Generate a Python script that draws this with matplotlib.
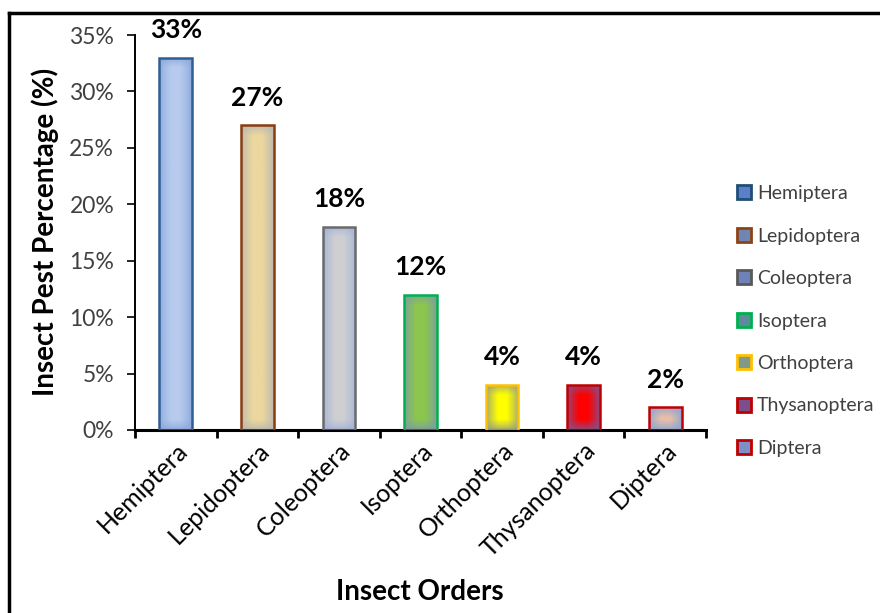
import numpy as np
import matplotlib
matplotlib.use("Agg")
import matplotlib.pyplot as plt
from matplotlib.patches import Patch, Rectangle
from matplotlib.colors import to_rgb
from matplotlib.ticker import FuncFormatter, FixedLocator

plt.rcParams['font.family'] = ['Lato', 'DejaVu Sans']

categories = ["Hemiptera", "Lepidoptera", "Coleoptera", "Isoptera",
              "Orthoptera", "Thysanoptera", "Diptera"]
values = [33, 27, 18, 12, 4, 4, 2]
value_labels = ["33%", "27%", "18%", "12%", "4%", "4%", "2%"]
yticks = [0, 5, 10, 15, 20, 25, 30, 35]

center_colors = ["#b8cbee", "#ecd79e", "#cfcfd2", "#8cc64e", "#ffff00", "#ff0000", "#e9c0a6"]
edge_fill_colors = ["#8aa8dc", "#b8b8b0", "#a2b2d8", "#7a9ca6", "#9a9e80", "#80528e", "#8fa4d4"]
line_colors = ["#2f5f92", "#8b3d10", "#6a6a6a", "#00b050", "#ffc000", "#c00000", "#c00000"]
legend_fill = ["#5b80c8", "#6f86b5", "#6f82b8", "#5f8a9a", "#7f9a8a", "#7b4f8a", "#7b8fc8"]
legend_edge = ["#1f4e79", "#8b4513", "#595959", "#00b050", "#ffc000", "#c00000", "#c00000"]

fig = plt.figure(figsize=(8.8, 6.13), dpi=100)
ax = fig.add_axes([135/880, 1-430/613, (706-135)/880, (430-35)/613])

x = np.arange(len(categories))
width = 0.4
ax.set_xlim(-0.5, len(categories) - 0.5)
ax.set_ylim(0, 35)
bars = ax.bar(x, values, width=width, color="none", edgecolor=line_colors, linewidth=1.8, zorder=3)

# gradient fills (edge-to-centre shading, computed in pixel units)
px_per_x = 571 / len(categories)
px_per_y = 395 / 35
for b, cc, ec in zip(bars, center_colors, edge_fill_colors):
    bx, by = b.get_x(), b.get_y()
    bw, bh = b.get_width(), b.get_height()
    wpx = bw * px_per_x
    hpx = bh * px_per_y
    nx, ny = 40, max(int(hpx), 10)
    xs = (np.arange(nx) + 0.5) / nx * wpx
    ys = (np.arange(ny) + 0.5) / ny * hpx
    hw = wpx / 2
    dx = np.minimum(xs, wpx - xs) / hw
    dy = np.minimum(ys, hpx - ys) / hw
    sx = np.clip(dx * 1.35, 0, 1) ** 0.75
    sy = np.clip(dy * 1.5, 0, 1) ** 0.75
    t = sy[:, None] * sx[None, :]
    c1 = np.array(to_rgb(cc)); c2 = np.array(to_rgb(ec))
    img = c2[None, None, :] + (c1 - c2)[None, None, :] * t[..., None]
    im = ax.imshow(img, extent=(bx, bx + bw, by, by + bh), aspect='auto',
                   origin='lower', zorder=2, interpolation='bilinear')
    clip = Rectangle((bx, by), bw, bh, transform=ax.transData)
    im.set_clip_path(clip)
ax.set_xlim(-0.5, len(categories) - 0.5)
ax.set_ylim(0, 35)

for xi, v, lab in zip(x, values, value_labels):
    ax.annotate(lab, (xi, v), xytext=(0, 20), textcoords='offset points',
                ha='center', va='center', fontsize=19, fontweight='bold', clip_on=False)

ax.yaxis.set_major_locator(FixedLocator(yticks))
ax.yaxis.set_major_formatter(FuncFormatter(lambda v, p: f"{int(v)}%"))
ax.set_xticks(x)
ax.set_xticklabels(categories, rotation=45, ha='right', va='top', rotation_mode='anchor', fontsize=18)
ax.tick_params(axis='x', length=0, pad=6)
ax.xaxis.set_minor_locator(FixedLocator(np.arange(-0.5, len(categories), 1.0)))
ax.tick_params(axis='x', which='minor', length=6, width=2, direction='out')
ax.tick_params(axis='y', length=6, width=1.2, direction='out', labelsize=16.5, labelcolor='#404040', pad=9)
for s in ['top', 'right']:
    ax.spines[s].set_visible(False)
ax.spines['bottom'].set_linewidth(2.2)
ax.spines['left'].set_linewidth(1.4)

fig.text(45/880, 1-232/613, "Insect Pest Percentage (%)", rotation=90, fontsize=20, fontweight='bold',
         ha='center', va='center')
fig.text(420/880, 1-592/613, "Insect Orders", fontsize=20, fontweight='bold', ha='center', va='center')

handles = [Patch(facecolor=f, edgecolor=e, linewidth=2) for f, e in zip(legend_fill, legend_edge)]
leg = fig.legend(handles, categories, loc='center left', bbox_to_anchor=(729/880, 1-321/613),
                 frameon=False, fontsize=14, labelspacing=1.31, handlelength=0.75, handleheight=0.75,
                 handletextpad=0.3, borderaxespad=0)
for t in leg.get_texts():
    t.set_color('#404040')

# outer frame (top and left edges visible)
fig.add_artist(plt.Line2D([9/880, 1.0], [1-12.5/613, 1-12.5/613], color='black', lw=2.5, transform=fig.transFigure))
fig.add_artist(plt.Line2D([9/880, 9/880], [0, 1-12.5/613], color='black', lw=2.5, transform=fig.transFigure))

fig.savefig("out.png", dpi=100)
